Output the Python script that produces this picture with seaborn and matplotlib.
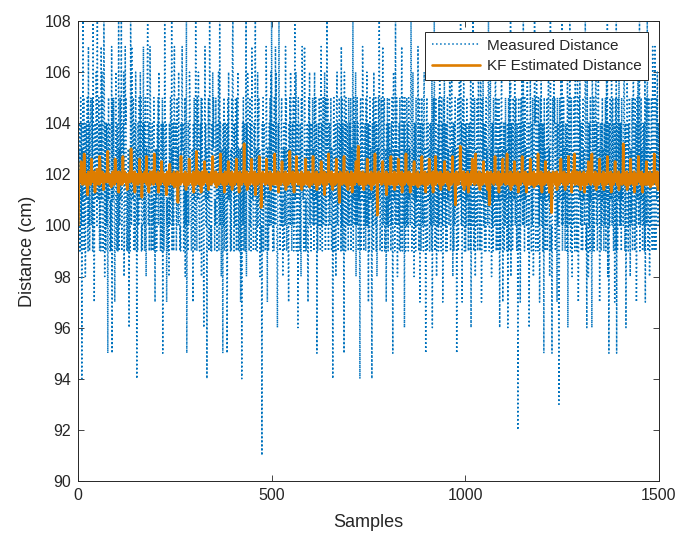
import numpy as np
import pandas as pd
import seaborn as sns
import matplotlib
matplotlib.use("Agg")
import matplotlib.pyplot as plt

# measured distance, one char per sample: value = 90 + int(char, 20)
measured_codes = """
ad9ec9fae4 dbiaf9ed8a ebcfa9hae9 aefeacf9id a7cebdgfai
cbdfa9ea9h bgca9eif8e a9eaec5dfb ce9b9ah5fd bfca7aegc9
ed9ai9dafb ci9bdecg8a bhefa9bc9d a6cd9ifahe cbf9ae9agd
c4d9ecafeb gcf9a9echa e9bfa8dcgi dae9bhfd9b ce9baf9b7d
bd9aecfagd cb9de9af5e d9aifdce7b ac9b8ecafd bi9dae9fhd
dce9afcdag bc9a9ecfhd ec9daf8cai 5ca9eacgfd ca9bdc7ebf
b9ciea9fcb gba9decf8f dca96cdhbe ad4cbef9ai cb9a9ecgdf
ec9bafcb9e cbg9aiaed8 bdc5eaf9ae cd9e5afbgd bca9d9fchi
dc9eacfd9f ceg9da9bd7 bd4ceaf9ae a9bi8ecgfd c9bfae9ahd
bc9aecfi9d dc9gaefbd8 cb9a1ecf9d ebc9ahfb7d c9beafcgai
db9ea9fcah cgb96aecid b9caefab8d ce9dahcf9b dc97ecfagd
c9deaf9cai bcg9aec6fd dc9ea8fchd bc9ahe9b9d ce97afcgae
a9ecbfad9e gaefbe5c9d eafcb9ehae 9dfacegb9f aeidfb9eca
ebfa9dc4ae f9aeb8dfga e9acfbde9h af9eda5gbe 9fcaedb9fa
aecf9bdaei 9fbeadg8ca fae9dbc4ef 9aebhfd9ca eb9fagdae7
e9afbdca4e af9gbedaf9 e8adcfbie9 aefd9bhace f9adb7eafc
9eafbdc9ea fa5egbd9ei aefc8dbae9 fb9aehd9fc ae6fb9dafe
ae9fbdcaei f9aegbd8ea e9fbcadhe9 af7ed9bfca e9fgadb5ae
f9aebdc9ea ae9g6bdfai e9afc8bdae 9fahedb9fa e7afbgdae9
ae9fbdcaeh f9aegbd8ea 9eafcbd5ae f9aehdbiea e7fabgd9ae
9eafbdc9ea ae9g6bdfai e9afc8bdae f9ahedb9fh e7afbgdae9
ae9fbdcaei f9aegbd8ea e9fbcadhe9 afe9dbfa6e 9afgbd7aeb
9eafbdc9e6 af9egbi8ea e9afcbdhae fa9ed2bf9a e7afbgdaei
ae9fbdcaeh f9ae6bdgea 9eafc8bdie f9ahedb9fa e7afbgdae9
ae5fbd9cae f9aegbd8ei e9a5cfbdhe fa9edb7fae 93afbegdai
9eafbdc9ea ae9g6bdfai e9afc8bdae fa9hedb9fh e7afbgdae9
ae9fbdcaei f9a6gbd8ea e9fbca6he9 af9edbhfae 9afgbd7aeb
9eafbdc9ea af9egbi8ea 5eafcbdhae fa9ed7bf9i 5e9afbgdae
ae9fbdcaeh f9ae6bdgea 9eafc8bdae f9ahedb9fa e7afbgdaei
9eafbdc9ea ae9g7bdfai e9afc8bdae fa9hedb9fh e9afbgdaec
"""

# KF estimated distance, one char per sample: value = 100 + int(char, 36) / 10
kf_codes = """
0eiljhkpji kgjlhsikjg hjkicjlhik jgklqhjikh ljhdkijgmk
ijhkgroijk hjlikegjhk jikhljtijh kjgihfjkil hjkgiqjhkl
jihkdjlgik hjkgirjhik ljhjgkeijh kjilhjupjk ihjkgldjhk
ihjkgjkhqi jlhkbgjikh jlkhijrgjk hidjkglhij kjhlgjsihk
jkhigjldik hjgkjpiljh kjigjkhcij lhjkgioljk hijgkjhlfi
kjhijgl9ik jhkgjrlijh kjihgjlkeh ijkhgjqlij khjigkhldj
ihkjgtkjih ljkgihjdkl jhigkjpijh kljhgiekjh ijkgljhrik
jhkigljfkh ijkgjhlsij khjgikjdhl ijkghjlpik jhgkjilehj
kijhgljkqi hjkgidjlhk ijgkhjliwh kjgihlejkj hikgjlhqij
khjgiljcki hjkgjilrhj kj7gihljkj hikgjlqhij kjgihlejkh
ijkhgjlskh jigkjhldij kjhgilpjkh ijgkhlejik jhgkjltijh
kjigljhdki jhkrjilhgk jijhgkleji khjgijlqkh jigkjlhfij
hkjgilrjhk ijkghlejij khjgijlpkh jigkhlcjik jhgkjlsijh
kjigljhekj hikgjlqhji jkhc9jlkih jgkjilrhkj igkhjlejki
jhkgiljdkh ijkgjlhpij khtvjgilkh jigkjlhekj ihkgjlqjih
kjhgijleki hjkgjlshij kj4gihljkj hikgjlpjih kjgihlcjkh
ijkhgjlrkh jigkjhleij kjhgilqjkh ijgkhldjik jhgkjlsijh
kjigljhdki jhkgjilpgk jijhgklfji khjgijlrkh jigkjlhdij
hkjgilqjhk ijkghldjij khrgijljkh jigkhlejik jhgkjlpijh
kjigljhekj hikgjlrhji jkhc8jlkih jgkjilvrkj igkhjlejki
jhkgiljdkh ijkgjlhqij khjgilsjkh jigkjlhekj ihkgjlpjih
kjhgijleki h8cgjljhij kjhgilrjkh ijgkhldjik jhgkjlqijh
ijkhgjlskh jigkjhleij kjhgilpjkh ijgkhldjik jhgkjlrijh
kjigljhdki jhkgjilqgk jijhgklfji khjgijlskh jigkjlhdij
hkjgilpjhk ijkghldjij kj5cgjlikh jigkhlejik jhgkjlqijh
kjigljhekj hikgjlrhji jkhgdjlkih rsjgkjilkj igkhjlejki
jhkgiljdkh ijkgjlhpij khjgilsjkh jigkjlhekj ihkgjlqjih
kjhgijleki hjkgjlrhij kjhgildjkh ijgkhlpjik jhgkjlejih
ijkhgjlwkh jigkjhleij kjhgilqjkh ijgkhldjik jhgkjlrijh
kjigljhdki jhkgjilpgk jijhgklfji khjgijlskh jigkjlhekj
"""

measured = [90 + int(ch, 20) for ch in "".join(measured_codes.split())]
kf_estimate = [100 + int(ch, 36) / 10 for ch in "".join(kf_codes.split())]
assert len(measured) == 1500, len(measured)
assert len(kf_estimate) == 1500, len(kf_estimate)

df = pd.DataFrame({
    "sample": np.arange(1, len(measured) + 1),
    "Measured Distance": measured,
    "KF Estimated Distance": kf_estimate,
})

sns.set_style("ticks")
plt.rcParams["font.family"] = ["Liberation Sans", "DejaVu Sans"]

fig = plt.figure(figsize=(6.81, 5.34), dpi=100)
ax = fig.add_axes([0.1145, 0.0993, 0.853, 0.8614])

sns.lineplot(data=df, x="sample", y="Measured Distance", ax=ax, color="#0072BD",
             linestyle=":", linewidth=1.1, label="Measured Distance")
sns.lineplot(data=df, x="sample", y="KF Estimated Distance", ax=ax, color="#DE7D00",
             linewidth=1.9, label="KF Estimated Distance")

ax.set_xlim(0, 1500)
ax.set_ylim(90, 108)
ax.set_xticks([0, 500, 1000, 1500])
ax.set_yticks(range(90, 109, 2))
ax.set_xlabel("Samples", fontsize=13, color="#262626", labelpad=8)
ax.set_ylabel("Distance (cm)", fontsize=13, color="#262626", labelpad=6)
ax.tick_params(axis="both", labelsize=11.5, direction="in", length=4,
               top=True, right=True, colors="#262626", width=0.6, pad=5)
for s in ax.spines.values():
    s.set_visible(True)
    s.set_linewidth(0.7)
    s.set_color("#262626")

leg = ax.legend(loc="upper right", fontsize=11, frameon=True, fancybox=False,
                handlelength=3.2, borderpad=0.45, labelspacing=0.45,
                borderaxespad=0.7, handletextpad=0.4)
leg.get_frame().set_edgecolor("#262626")
leg.get_frame().set_linewidth(0.7)
leg.get_frame().set_alpha(1)

fig.savefig("out.png", dpi=100)
